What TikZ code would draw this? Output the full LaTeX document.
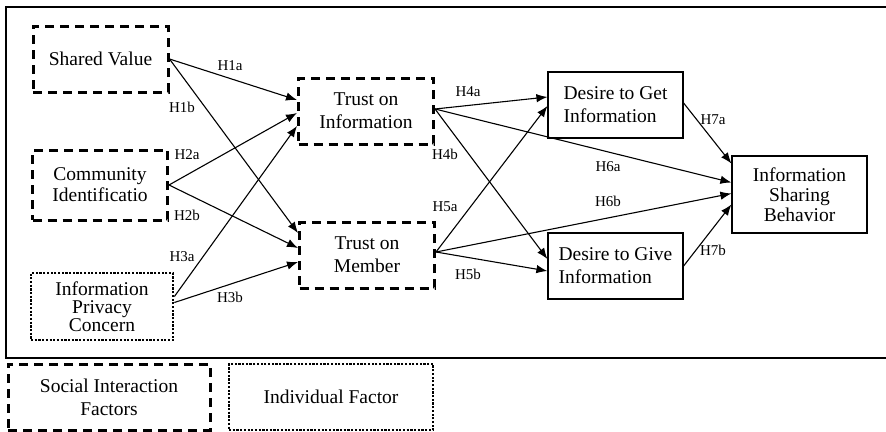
\documentclass[tikz,border=0pt]{standalone}
\usepackage{fontspec}
\setmainfont{Liberation Serif}
\usetikzlibrary{arrows.meta}

\begin{document}
\begin{tikzpicture}[x=1pt,y=-1pt,
	box/.style={draw, line width=1.2pt, minimum width=135pt, minimum height=66pt, inner sep=0pt, align=center, font=\fontsize{19.5}{23}\selectfont},
	dashbox/.style={box, line width=3pt, dash pattern=on 9pt off 6pt},
	dotbox/.style={box, line width=2.8pt, dash pattern=on 2.2pt off 1.5pt},
	hyp/.style={-{Latex[length=11pt,width=8.5pt]}, line width=1.1pt},
	lab/.style={font=\fontsize{15}{17}\selectfont, inner sep=0pt}]
	\useasboundingbox (0,0) rectangle (886,431);
	\draw[line width=1.2pt] (886,7) -- (6,7) -- (6,358) -- (886,358);
	\node[dashbox] (sv) at (100.5,59) {Shared Value};
	\node[dashbox, minimum height=70pt, font=\fontsize{19.5}{21}\selectfont] (ci) at (100,185) {Community\\Identificatio};
	\node[dotbox, minimum width=142pt, minimum height=67pt, font=\fontsize{19.5}{18}\selectfont] (ipc) at (102,306.5) {Information\\Privacy\\Concern};
	\node[dashbox] (ti) at (366,111) {Trust on\\Information};
	\node[dashbox] (tm) at (367,255) {Trust on\\Member};
	\node[box, align=left] (dg) at (615.5,105) {Desire to Get\\Information};
	\node[box, align=left] (dv) at (615.5,266) {Desire to Give\\Information};
	\node[box, minimum height=77pt, font=\fontsize{19.5}{20}\selectfont] (isb) at (799.5,194.5) {Information\\Sharing\\Behavior};
	\node[dashbox, minimum width=202pt] (sif) at (109,397) {Social Interaction\\Factors};
	\node[dotbox, minimum width=204pt] (ind) at (331,397) {Individual Factor};
	\draw[hyp] (sv.east) -- ([yshift=11pt]ti.west);
	\draw[hyp] (sv.east) -- ([yshift=22pt]tm.west);
	\draw[hyp] (ci.east) -- ([yshift=-2pt]ti.west);
	\draw[hyp] (ci.east) -- ([yshift=7pt]tm.west);
	\draw[hyp] ([yshift=10pt]ipc.east) -- ([yshift=-15pt]ti.west);
	\draw[hyp] ([yshift=4pt]ipc.east) -- ([yshift=-7pt]tm.west);
	\draw[hyp] ([yshift=2pt]ti.east) -- ([yshift=8pt]dg.west);
	\draw[hyp] ([yshift=2pt]ti.east) -- ([yshift=7pt]dv.west);
	\draw[hyp] ([yshift=2pt]ti.east) -- ([yshift=12pt]isb.west);
	\draw[hyp] ([yshift=3pt]tm.east) -- ([yshift=-1pt]dg.west);
	\draw[hyp] ([yshift=3pt]tm.east) -- ([yshift=-5pt]dv.west);
	\draw[hyp] ([yshift=3pt]tm.east) -- ([yshift=1pt]isb.west);
	\draw[hyp] ([yshift=2pt]dg.east) -- ([yshift=31pt]isb.west);
	\draw[hyp] (dv.east) -- ([yshift=-10pt]isb.west);
	\node[lab] (h1a) at (230,66) {H1a};
	\node[lab] (h1b) at (182,107) {H1b};
	\node[lab] (h2a) at (187,155) {H2a};
	\node[lab] (h2b) at (187,215) {H2b};
	\node[lab] (h3a) at (182,257) {H3a};
	\node[lab] (h3b) at (230,297) {H3b};
	\node[lab] (h4a) at (468,92) {H4a};
	\node[lab] (h4b) at (445,154) {H4b};
	\node[lab] (h5a) at (445,207) {H5a};
	\node[lab] (h5b) at (468,274) {H5b};
	\node[lab] (h6a) at (608,167) {H6a};
	\node[lab] (h6b) at (608,201) {H6b};
	\node[lab] (h7a) at (713,120) {H7a};
	\node[lab] (h7b) at (713,250) {H7b};
\end{tikzpicture}
\end{document}
